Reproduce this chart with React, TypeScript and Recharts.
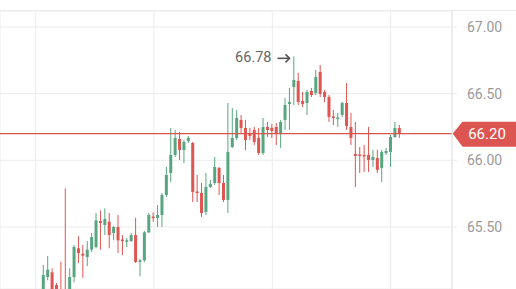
import React from "react"
import {
  ComposedChart,
  Bar,
  XAxis,
  YAxis,
  CartesianGrid,
  ReferenceLine,
  ReferenceDot,
} from "recharts"

// OHLC, one entry per candle
const opens = [
  64.95, 65.125, 65.16, 65.065, 65.03, 65.01, 64.95, 65.125, 65.34, 65.3,
  65.275, 65.33, 65.35, 65.545, 65.515, 65.54, 65.455, 65.5, 65.406, 65.388,
  65.395, 65.44, 65.238, 65.25, 65.46, 65.578, 65.567, 65.59, 65.74, 65.905,
  66.04, 66.16, 66.078, 66.145, 66.13, 65.766, 65.755, 65.613, 65.8, 65.83,
  65.943, 65.83, 65.703, 66.1, 66.168, 66.303, 66.243, 66.205, 66.228, 66.168,
  66.055, 66.25, 66.243, 66.25, 66.205, 66.303, 66.423, 66.55, 66.595, 66.445,
  66.43, 66.52, 66.505, 66.663, 66.513, 66.475, 66.329, 66.314, 66.34, 66.43,
  66.25, 66.048, 66.044, 66.04, 66.04, 66.003, 66.018, 65.943, 66.055, 66.063,
  66.175, 66.243,
]
const highs = [
  65.215, 65.283, 65.19, 65.08, 65.24, 65.79, 65.19, 65.365, 65.43, 65.365,
  65.395, 65.455, 65.605, 65.625, 65.64, 65.605, 65.507, 65.59, 65.44, 65.418,
  65.455, 65.568, 65.26, 65.47, 65.605, 65.61, 65.665, 65.755, 65.95, 66.243,
  66.228, 66.213, 66.153, 66.183, 66.138, 65.89, 65.83, 65.905, 65.853, 66.025,
  65.95, 65.89, 66.43, 66.393, 66.378, 66.34, 66.303, 66.243, 66.25, 66.243,
  66.318, 66.288, 66.273, 66.28, 66.303, 66.468, 66.543, 66.78, 66.655, 66.513,
  66.528, 66.543, 66.678, 66.715, 66.528, 66.49, 66.378, 66.355, 66.438, 66.58,
  66.355, 66.288, 66.1, 66.115, 66.25, 66.078, 66.078, 66.078, 66.093, 66.19,
  66.288, 66.265,
]
const lows = [
  64.915, 65.1, 64.95, 64.97, 64.915, 64.88, 64.915, 65.085, 65.23, 65.118,
  65.207, 65.313, 65.34, 65.33, 65.44, 65.34, 65.4, 65.305, 65.29, 65.35,
  65.388, 65.23, 65.13, 65.238, 65.455, 65.54, 65.5, 65.5, 65.725, 65.838,
  66.025, 66.003, 65.98, 66.13, 65.688, 65.688, 65.575, 65.59, 65.793, 65.815,
  65.74, 65.688, 65.605, 66.093, 66.153, 66.205, 66.078, 66.153, 66.115, 66.04,
  66.04, 66.175, 66.168, 66.115, 66.093, 66.228, 66.228, 66.415, 66.415, 66.4,
  66.34, 66.475, 66.49, 66.475, 66.438, 66.288, 66.265, 66.25, 66.325, 66.228,
  66.115, 65.8, 65.905, 65.913, 65.913, 65.95, 65.905, 65.838, 66.04, 65.95,
  66.168, 66.168,
]
const closes = [
  65.14, 65.18, 64.99, 65.01, 64.95, 64.915, 65.125, 65.35, 65.305, 65.285,
  65.33, 65.425, 65.55, 65.53, 65.56, 65.44, 65.5, 65.4, 65.395, 65.4,
  65.44, 65.238, 65.25, 65.46, 65.59, 65.567, 65.59, 65.74, 65.89, 66.04,
  66.168, 66.078, 66.138, 66.168, 65.763, 65.755, 65.605, 65.8, 65.823, 65.95,
  65.83, 65.703, 66.063, 66.168, 66.318, 66.243, 66.153, 66.183, 66.138, 66.055,
  66.25, 66.228, 66.22, 66.198, 66.288, 66.415, 66.438, 66.603, 66.438, 66.423,
  66.513, 66.49, 66.625, 66.498, 66.475, 66.325, 66.318, 66.321, 66.43, 66.258,
  66.168, 66.033, 66.033, 66.029, 66.003, 66.025, 65.928, 66.063, 66.07, 66.175,
  66.243, 66.2,
]

const priceTicks = [65.5, 66, 66.5, 67]
const gridTicks = [-1.66, 25.26, 52.18, 79.1]
const lastPrice = 66.2
const peakIndex = 57
const peakPrice = 66.78

const data = opens.map((open, i) => ({
  i,
  open,
  high: highs[i],
  low: lows[i],
  close: closes[i],
}))

const UP = "#58a680"
const DOWN = "#df5551"

const Candle = (props: any) => {
  const { x, y, width, height, payload } = props
  if (!payload) return null
  const { open, close, high, low } = payload
  const isUp = close >= open
  const color = isUp ? UP : DOWN
  const range = Math.max(0.0001, high - low)
  const top = y + (height * (high - Math.max(open, close))) / range
  const bodyH = Math.max(1.5, (height * Math.abs(open - close)) / range)
  const cx = x + width / 2
  return (
    <g>
      <line x1={cx} y1={y} x2={cx} y2={y + height} stroke={color} strokeWidth={1} />
      <rect x={x} y={top} width={width} height={bodyH} fill={color} />
    </g>
  )
}

const PriceBadge = (props: any) => {
  const vb = props.viewBox || {}
  const tip = vb.x + vb.width + 2
  const cy = vb.y
  return (
    <g>
      <path
        d={`M${tip},${cy} L${tip + 9},${cy - 11} L516,${cy - 11} L516,${cy + 12} L${tip + 9},${cy + 12} Z`}
        fill="#dc5550"
        stroke="#dc5550"
        strokeLinejoin="round"
        strokeWidth={2}
      />
      <text
        x={tip + 33}
        y={cy + 1}
        fill="#fff"
        fontSize={15}
        fontFamily="Roboto, sans-serif"
        textAnchor="middle"
        dominantBaseline="middle"
      >
        {lastPrice.toFixed(2)}
      </text>
    </g>
  )
}

// price text plus a drawn arrow pointing at the session high
const PeakLabel = (props: any) => {
  const vb = props.viewBox || {}
  const px = (vb.cx ?? vb.x) as number
  const py = ((vb.cy ?? vb.y) as number) + 2
  const ax = px - 4
  return (
    <g>
      <text
        x={ax - 18}
        y={py}
        fill="#666"
        fontSize={14.5}
        fontFamily="Roboto, sans-serif"
        textAnchor="end"
        dominantBaseline="middle"
      >
        {peakPrice.toFixed(2)}
      </text>
      <path d={`M${ax - 12},${py} L${ax},${py}`} stroke="#555" strokeWidth={1.6} />
      <path
        d={`M${ax - 4},${py - 4} L${ax},${py} L${ax - 4},${py + 4}`}
        stroke="#555"
        strokeWidth={1.6}
        fill="none"
      />
    </g>
  )
}

export default function App() {
  return (
    <div style={{ position: "absolute", left: 0, top: 0, width: 516, height: 289, background: "#fff" }}>
      <div
        style={{ position: "absolute", left: 0, top: 10, width: 516, height: 0, borderTop: "1px solid #ebebeb" }}
      />
      <ComposedChart
        width={516}
        height={289}
        data={data}
        margin={{ top: 11, right: 0, bottom: 0, left: 0 }}
        style={{ position: "absolute", left: 0, top: 0 }}
      >
        <CartesianGrid stroke="#ececec" strokeWidth={1} />
        <XAxis
          dataKey="i"
          type="number"
          domain={[-9.784, 93.06]}
          allowDataOverflow
          ticks={gridTicks}
          hide
          height={0}
        />
        <YAxis
          orientation="right"
          domain={[65.035, 67.12]}
          allowDataOverflow
          ticks={priceTicks}
          width={64}
          axisLine={{ stroke: "#e4e4e4" }}
          tickLine={{ stroke: "#ececec" }}
          tickSize={5}
          tickMargin={10}
          tickFormatter={(v: number) => v.toFixed(2)}
          tick={{ fill: "#9a9a9a", fontSize: 14, fontFamily: "Roboto, sans-serif" }}
        />
        <Bar
          dataKey={(d: any) => [d.low, d.high]}
          barSize={3}
          shape={Candle}
          isAnimationActive={false}
        />
        <ReferenceLine
          y={lastPrice}
          stroke="#d9534f"
          strokeWidth={1.2}
          label={<PriceBadge />}
        />
        <ReferenceDot
          x={peakIndex}
          y={peakPrice}
          r={0}
          stroke="none"
          fill="none"
          label={<PeakLabel />}
        />
      </ComposedChart>
    </div>
  )
}
